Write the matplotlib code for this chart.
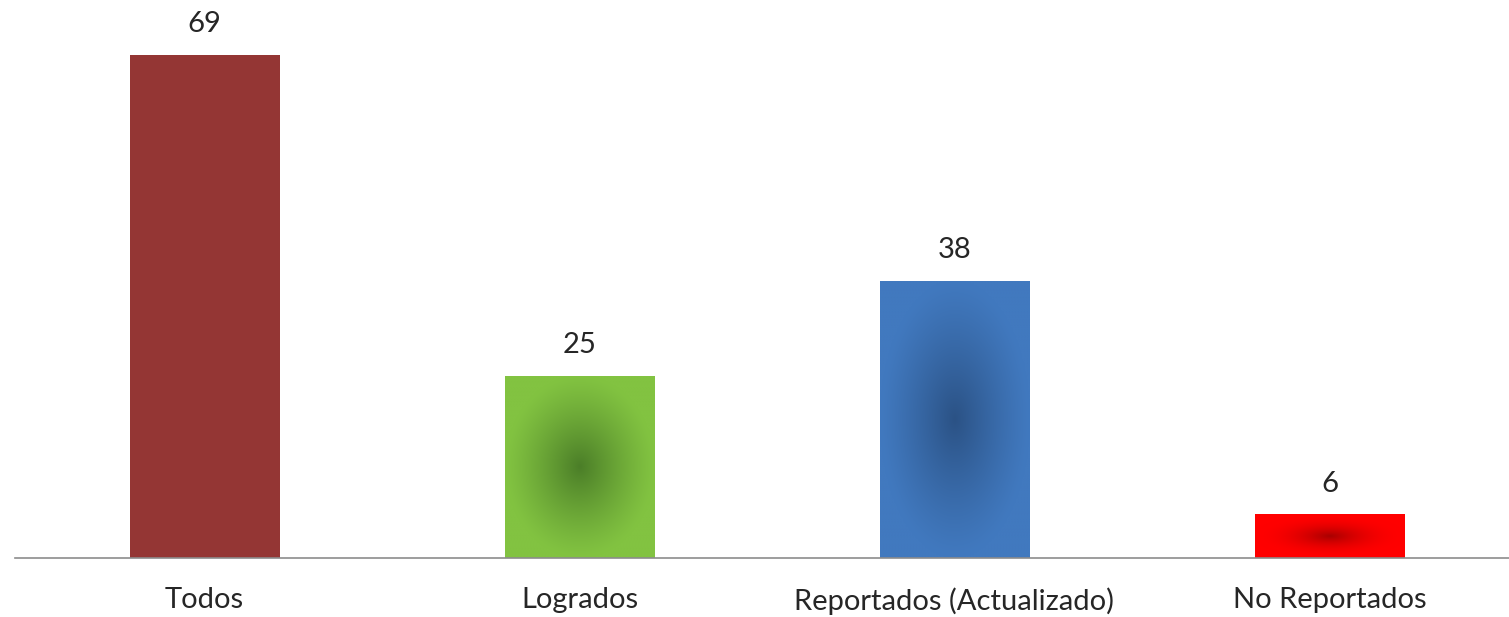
# Gráfico de barras: Todos / Logrados / Reportados / No Reportados

import matplotlib.pyplot as plt
import numpy as np
from matplotlib.colors import to_rgb

categorias = ['Todos', 'Logrados', 'Reportados (Actualizado)', 'No Reportados']
valores = [69, 25, 38, 6]

# color del borde del degradado y color del centro (None = color sólido)
colores_borde = ['#943634', '#82C341', '#4179BF', '#FF0000']
colores_centro = [None, '#4B7E28', '#2B5285', '#A80000']
potencias = [1.0, 1.2, 1.2, 2.0]

plt.rcParams['font.family'] = ['Lato', 'DejaVu Sans']

fig = plt.figure(figsize=(15.09, 6.17), dpi=100, facecolor='w')
ax = fig.add_axes([15 / 1509, 59 / 617, 1 - 15 / 1509, 558 / 617])

x = np.arange(len(categorias))
barras = ax.bar(x, valores, width=0.4, color=colores_borde, zorder=2)

# degradado radial desde el centro de cada barra
for barra, borde, centro, p in zip(barras, colores_borde, colores_centro, potencias):
    if centro is None:
        continue
    u = np.linspace(-1, 1, 200)
    v = np.linspace(-1, 1, 200)
    uu, vv = np.meshgrid(u, v)
    r = np.clip(np.sqrt(uu ** 2 + vv ** 2), 0, 1)
    t = (1 - r) ** p
    c0 = np.array(to_rgb(borde))
    c1 = np.array(to_rgb(centro))
    img = c0 + (c1 - c0) * t[..., None]
    x0, y0 = barra.get_x(), barra.get_y()
    w, h = barra.get_width(), barra.get_height()
    im = ax.imshow(img, extent=[x0, x0 + w, y0, y0 + h], aspect='auto',
                   interpolation='bilinear', zorder=3)
    im.set_clip_path(barra)

for xi, val in zip(x, valores):
    ax.text(xi, val + 2.4, str(val), ha='center', va='bottom',
            fontsize=21, color='#262626')

desp = 2 / 375
ax.set_xlim(-0.5 - desp, -0.5 + 1494 / 375 - desp)
ax.set_ylim(0, 76.5)
ax.set_xticks(x)
ax.set_xticklabels(categorias, fontsize=21, color='#262626')
ax.tick_params(axis='x', length=0, pad=21)
ax.set_yticks([])
for lado in ['top', 'right', 'left']:
    ax.spines[lado].set_visible(False)
ax.spines['bottom'].set_color('#8C8C8C')
ax.spines['bottom'].set_linewidth(1.2)
ax.spines['bottom'].set_zorder(4)

plt.savefig('out.png', dpi=100, facecolor='w')
